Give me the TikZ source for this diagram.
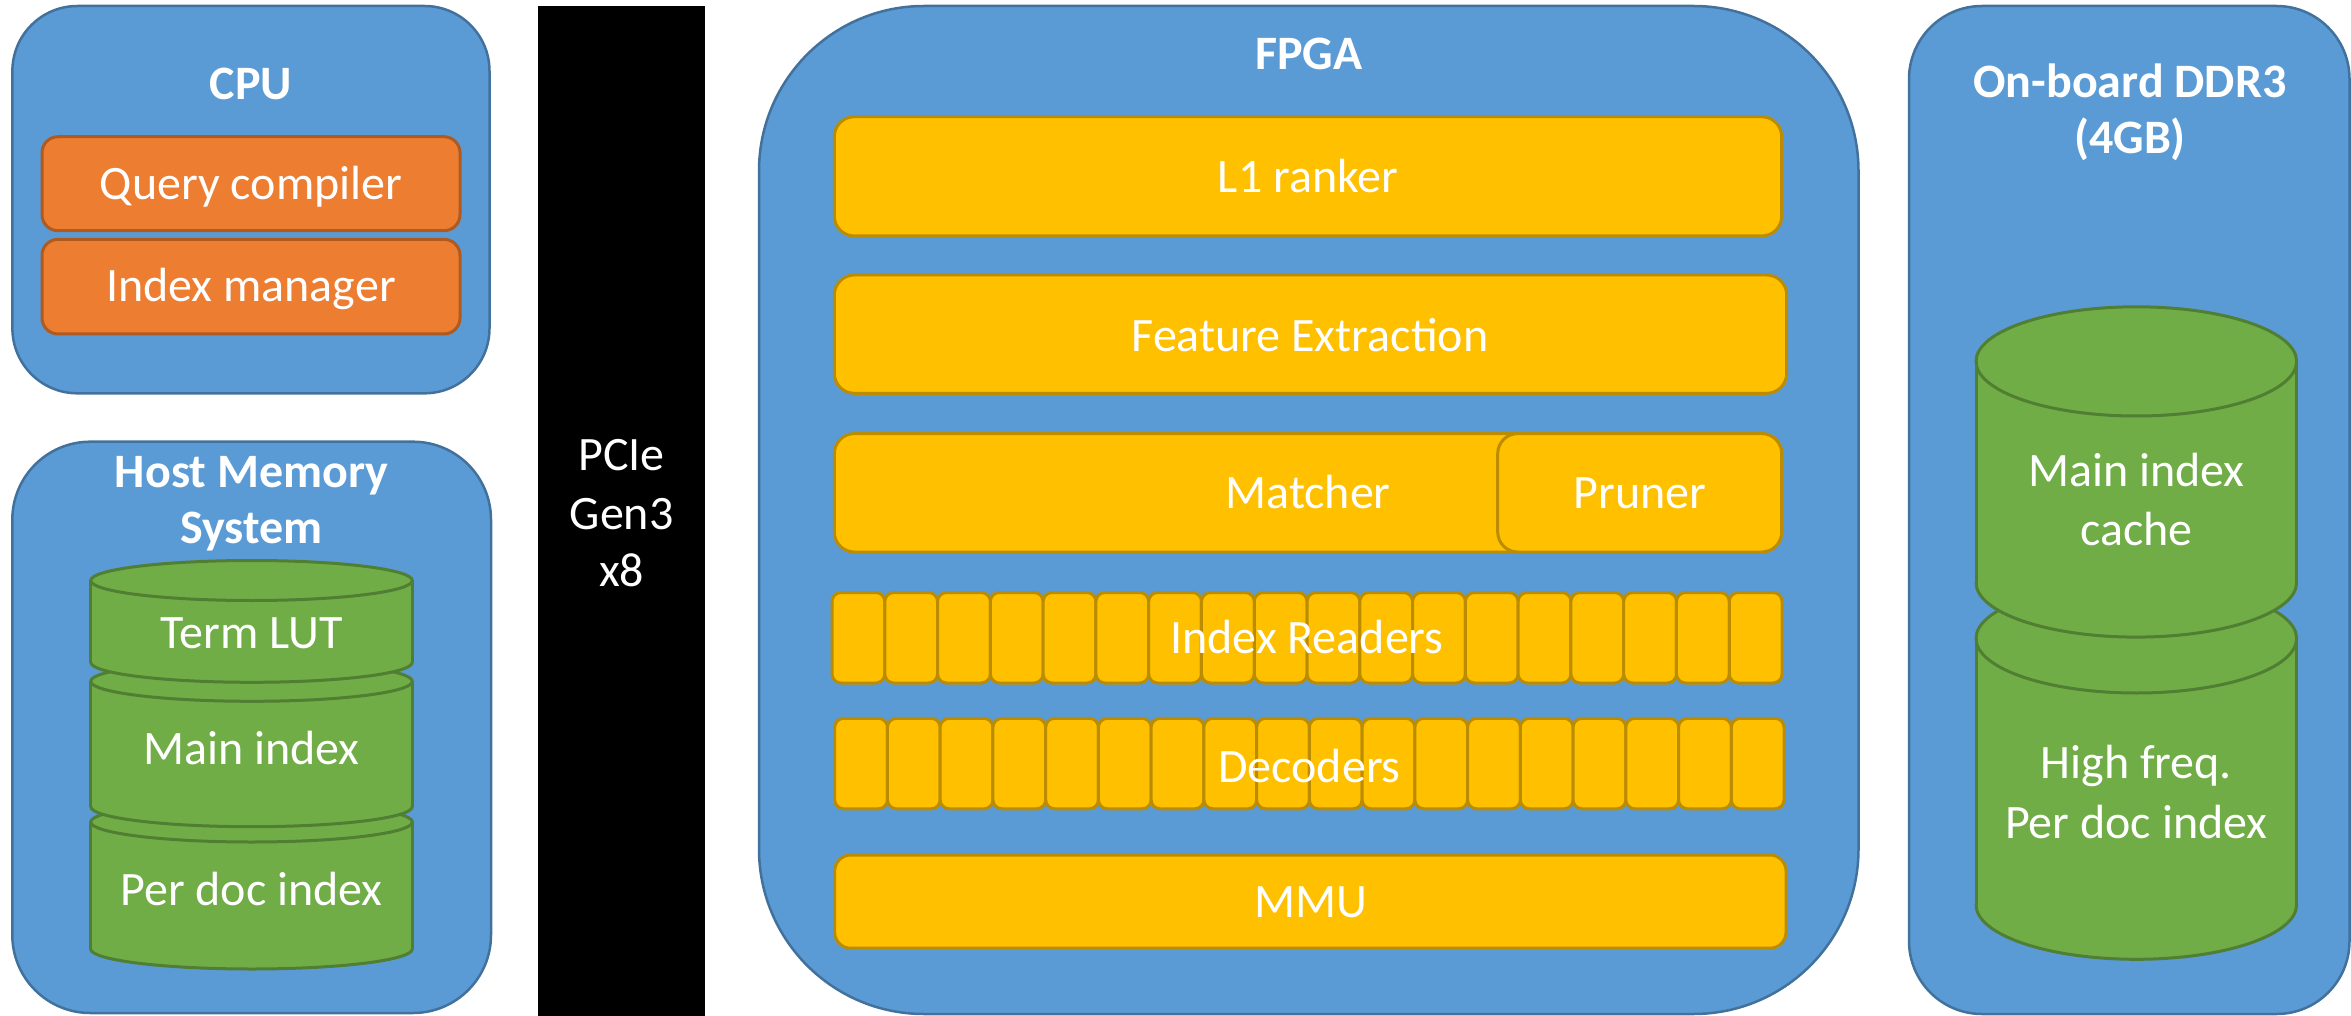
\documentclass[tikz,border=0pt]{standalone}
\usepackage{fontspec}
\setmainfont{Carlito}

\definecolor{boxblue}{HTML}{5B9BD5}
\definecolor{boxblueline}{HTML}{41719C}
\definecolor{unitorange}{HTML}{ED7D31}
\definecolor{unitorangeline}{HTML}{AE5A21}
\definecolor{unitgold}{HTML}{FFC000}
\definecolor{unitgoldline}{HTML}{BC8C00}
\definecolor{diskgreen}{HTML}{70AD47}
\definecolor{diskgreenline}{HTML}{507E32}

\tikzset{
  panel/.style={fill=boxblue, draw=boxblueline, line width=2.5pt, rounded corners=#1},
  panel/.default=70pt,
  cpuunit/.style={fill=unitorange, draw=unitorangeline, line width=3pt, rounded corners=16pt},
  fpgaunit/.style={fill=unitgold, draw=unitgoldline, line width=3pt, rounded corners=#1},
  fpgaunit/.default=20pt,
  cell/.style={fpgaunit=9pt},
  diskline/.style={draw=diskgreenline, line width=3pt},
  lbl/.style={text=white, anchor=base, inner sep=0pt,
    font=\fontsize{48}{57.6}\selectfont},
  ttl/.style={lbl, font=\fontsize{48}{57.6}\selectfont\bfseries},
}

% one drum of a stacked disk: centre x, top rim y, bottom rim y, x radius, y radius
\newcommand\diskseg[5]{%
  \fill[diskgreen] (#1-#4,#2) rectangle (#1+#4,#3);
  \fill[diskgreen] (#1,#2) ellipse [x radius=#4, y radius=#5];
  \fill[diskgreen] (#1,#3) ellipse [x radius=#4, y radius=#5];
  \begin{scope}
    \clip (#1-#4-6,#3) rectangle (#1+#4+6,#3+#5+6);
    \draw[diskline] (#1,#3) ellipse [x radius=#4, y radius=#5];
  \end{scope}
  \draw[diskline] (#1-#4,#2) -- (#1-#4,#3);
  \draw[diskline] (#1+#4,#2) -- (#1+#4,#3);
  \draw[diskline] (#1,#2) ellipse [x radius=#4, y radius=#5];
}

\begin{document}
\begin{tikzpicture}[x=1pt, y=-1pt]
\useasboundingbox (0,0) rectangle (2351,1016);

% ---------------- CPU ----------------
\draw[panel=65pt] (12.4,6) rectangle (489.5,393.3);
\node[ttl] (cpu-title) at (251,100) {CPU};
\draw[cpuunit] (42,136.7) rectangle (460,230.7);
\node[lbl] (qcomp) at (251,200) {Query compiler};
\draw[cpuunit] (42,239.3) rectangle (460,334);
\node[lbl] (imgr) at (251,301.7) {Index manager};

% ---------------- Host memory ----------------
\draw[panel=78pt] (12.3,441.7) rectangle (491,1013);
\node[ttl] (host-title1) at (251.5,487.7) {Host Memory};
\node[ttl] (host-title2) at (251.5,543.5) {System};
\diskseg{251.5}{822}{949}{160.8}{20}
\diskseg{251.5}{681.3}{806.7}{160.8}{20}
\diskseg{251.5}{580.5}{662.3}{160.8}{20}
\node[lbl] (termlut) at (251.5,648) {Term LUT};
\node[lbl] (mainidx) at (251.5,764) {Main index};
\node[lbl] (perdoc) at (251.5,905.7) {Per doc index};

% ---------------- PCIe link ----------------
\fill[black] (538.3,6) rectangle (705,1016);
\node[lbl] (pcie1) at (621.6,470.7) {PCIe};
\node[lbl] (pcie2) at (621.6,529) {Gen3};
\node[lbl] (pcie3) at (621.6,586.7) {x8};

% ---------------- FPGA ----------------
\draw[panel=165pt] (759,6) rectangle (1858.5,1014);
\node[ttl] (fpga-title) at (1309,70) {FPGA};
\draw[fpgaunit] (834.3,116.7) rectangle (1781.7,236);
\node[lbl] (l1) at (1308,192.7) {L1 ranker};
\draw[fpgaunit] (834.3,275) rectangle (1786.7,393.3);
\node[lbl] (feat) at (1310,351.7) {Feature Extraction};
\draw[fpgaunit] (834.3,433.6) rectangle (1781.7,552);
\node[lbl] (matcher) at (1308,508.6) {Matcher};
\draw[fpgaunit] (1497.7,433.6) rectangle (1781.7,552);
\node[lbl] (pruner) at (1640,508.6) {Pruner};
\foreach \i in {0,...,17}
  \draw[cell] ({832+\i*52.78},592.5) rectangle ++(52.78,90.5);
\node[lbl] (readers) at (1307,653.3) {Index Readers};
\foreach \i in {0,...,17}
  \draw[cell] ({834.7+\i*52.74},718.3) rectangle ++(52.74,90.5);
\node[lbl] (decoders) at (1309.5,782.3) {Decoders};
\draw[fpgaunit=16pt] (834.7,855) rectangle (1786,948.2);
\node[lbl] (mmu) at (1310.5,917.7) {MMU};

% ---------------- On-board DDR3 ----------------
\draw[panel=73pt] (1909,6) rectangle (2349.5,1014);
\node[ttl] (ddr-title1) at (2130,97.3) {On-board DDR3};
\node[ttl] (ddr-title2) at (2130,154) {(4GB)};
\diskseg{2136.3}{638.4}{904.7}{160.3}{54.6}
\diskseg{2136.3}{361.4}{582.5}{160.3}{54.6}
\node[lbl] (cache1) at (2136.3,486) {Main index};
\node[lbl] (cache2) at (2136.3,545.6) {cache};
\node[lbl] (hf1) at (2136.3,778.6) {High freq.};
\node[lbl] (hf2) at (2136.3,838) {Per doc index};
\end{tikzpicture}
\end{document}
